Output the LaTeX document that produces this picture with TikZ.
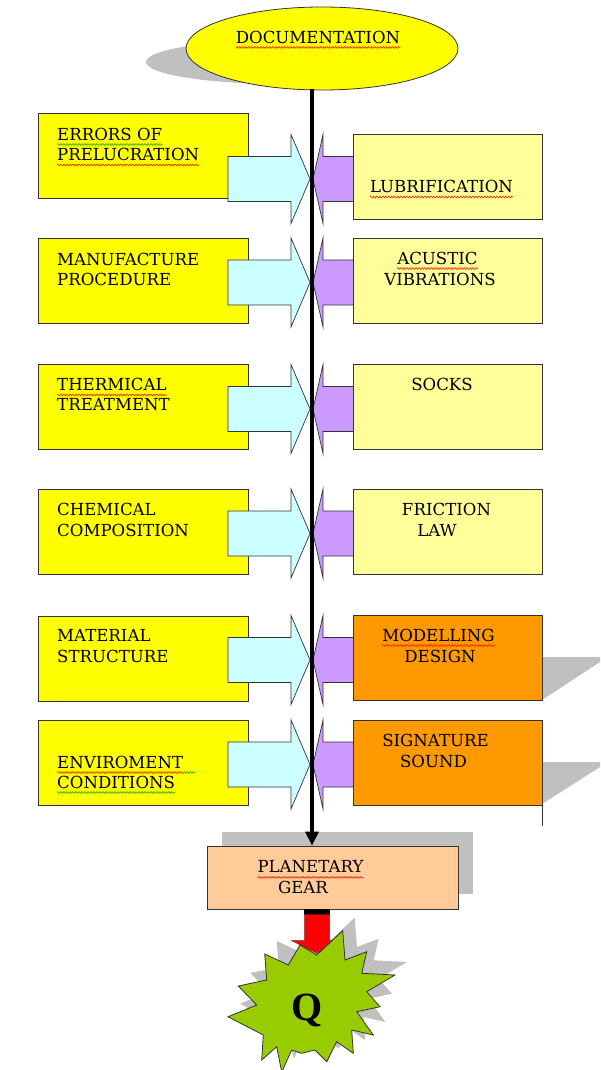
\documentclass[tikz,border=0pt]{standalone}
\usepackage{fontspec}
\setmainfont{DejaVu Serif}
\newfontfamily\qfont{Liberation Serif}
\usetikzlibrary{shapes.geometric,arrows.meta,decorations.pathmorphing}

\definecolor{ylw}{HTML}{FFFF00}
\definecolor{lylw}{HTML}{FFFF99}
\definecolor{cyn}{HTML}{CCFFFF}
\definecolor{prp}{HTML}{CC99FF}
\definecolor{org}{HTML}{FF9900}
\definecolor{pch}{HTML}{FFCC99}
\definecolor{grn}{HTML}{99CC00}
\definecolor{shd}{HTML}{C0C0C0}
\definecolor{edgec}{HTML}{333333}
\definecolor{spellred}{HTML}{FF2000}
\definecolor{spellgreen}{HTML}{22AA22}

\newcommand\rowarrows[1]{%
  \filldraw[fill=cyn, draw=edgec, line width=0.7pt]
    (228,#1-22.5) -- (291,#1-22.5) -- (291,#1-44.5) -- (310,#1) --
    (291,#1+44.5) -- (291,#1+22.5) -- (228,#1+22.5) -- cycle;
  \filldraw[fill=prp, draw=edgec, line width=0.7pt]
    (360,#1-22.5) -- (323,#1-22.5) -- (323,#1-44.5) -- (313,#1) --
    (323,#1+44.5) -- (323,#1+22.5) -- (360,#1+22.5) -- cycle;}

\newcommand\burst[1]{%
  \filldraw[#1] (300,945) -- (316.7,955) -- (342.7,930.7) -- (345,960) --
    (366.7,951.7) -- (361.7,973.3) -- (395,975) -- (366.7,991.7) --
    (380,1006.7) -- (356.7,1011.7) -- (373.3,1035) -- (351.7,1030) --
    (353.3,1053.3) -- (336.7,1041.7) -- (326.7,1061.7) -- (315,1050) --
    (301.7,1053.3) -- (291.7,1050) -- (281.7,1072) -- (276.7,1046.7) --
    (261.7,1060) -- (263.3,1035) -- (228,1016.7) -- (256.7,1005) --
    (238.3,986) -- (266.7,980) -- (264.7,954) -- (288.3,965) -- cycle;}

\newcommand\squig[2]{%
  \draw[decorate, decoration={snake, amplitude=0.9pt, segment length=3pt},
        draw=#2, line width=0.6pt]
    ([yshift=-4pt]#1.south west) -- ([yshift=-4pt]#1.south east);}

\begin{document}
\begin{tikzpicture}[x=1pt,y=-1pt,
  lbox/.style={draw=edgec, fill=ylw, line width=0.8pt, minimum width=210pt,
               minimum height=85pt, inner sep=0pt},
  rbox/.style={draw=edgec, fill=lylw, line width=0.8pt, minimum width=189pt,
               minimum height=85pt, inner sep=0pt},
  obox/.style={rbox, fill=org},
  txt/.style={font=\fontsize{16.6}{20}\selectfont, inner sep=0pt, text=black},
  ltxt/.style={txt, anchor=west}]

\useasboundingbox (0,0) rectangle (600,1070);
\fill[white] (0,0) rectangle (600,1070);

% shadows
\fill[shd] (282,62) ellipse [x radius=136, y radius=22];
\fill[shd] (542,657) -- (600,657) -- (600,662) -- (542,700) -- cycle;
\fill[shd] (542,762) -- (600,762) -- (600,767) -- (542,804) -- cycle;
\fill[shd] (222,832) rectangle (473,894);
\burst{fill=shd, draw=none, shift={(12,-13)}}

% documentation ellipse
\node[ellipse, draw=edgec, fill=ylw, line width=0.8pt, minimum width=272pt,
      minimum height=83pt, inner sep=0pt] (doc) at (322,48.5) {};
\node[txt] (tdoc) at (318,37) {DOCUMENTATION};

% left boxes
\node[lbox] (L1) at (143,155.5) {};
\node[lbox] (L2) at (143,280.5) {};
\node[lbox] (L3) at (143,406.5) {};
\node[lbox] (L4) at (143,532) {};
\node[lbox] (L5) at (143,658.5) {};
\node[lbox] (L6) at (143,762.5) {};

% arrows
\rowarrows{179}
\rowarrows{282.5}
\rowarrows{409}
\rowarrows{533.5}
\rowarrows{660}
\rowarrows{764.5}

% right boxes
\node[rbox] (R1) at (447.5,176.5) {};
\node[rbox] (R2) at (447.5,280.5) {};
\node[rbox] (R3) at (447.5,406.5) {};
\node[rbox] (R4) at (447.5,532) {};
\node[obox] (R5) at (447.5,658) {};
\node[obox] (R6) at (447.5,762.5) {};
\draw[edgec, line width=0.8pt] (R6.south east) -- ++(0,21);

% left texts
\node[ltxt] (t1a) at (57,134) {ERRORS OF};
\node[ltxt] (t1b) at (57,154.5) {PRELUCRATION};
\node[ltxt] (t2a) at (57,259) {MANUFACTURE};
\node[ltxt] (t2b) at (57,279) {PROCEDURE};
\node[ltxt] (t3a) at (57,384.5) {THERMICAL};
\node[ltxt] (t3b) at (57,405) {TREATMENT};
\node[ltxt] (t4a) at (57,509) {CHEMICAL};
\node[ltxt] (t4b) at (57,530) {COMPOSITION};
\node[ltxt] (t5a) at (57,635) {MATERIAL};
\node[ltxt] (t5b) at (57,656) {STRUCTURE};
\node[ltxt] (t6a) at (57,762) {ENVIROMENT};
\node[ltxt] (t6b) at (57,782) {CONDITIONS};

% right texts
\node[txt] (s1a) at (441.5,186.5) {LUBRIFICATION};
\node[txt] (s2a) at (437.5,258) {ACUSTIC};
\node[txt] (s2b) at (440,279) {VIBRATIONS};
\node[txt] (s3a) at (442,384) {SOCKS};
\node[txt] (s4a) at (446.5,509) {FRICTION};
\node[txt] (s4b) at (437,530) {LAW};
\node[txt] (s5a) at (438.5,635) {MODELLING};
\node[txt] (s5b) at (440,656) {DESIGN};
\node[txt] (s6a) at (435.5,740) {SIGNATURE};
\node[txt] (s6b) at (433.5,761) {SOUND};

% planetary gear
\node[draw=edgec, fill=pch, line width=0.8pt, minimum width=251pt,
      minimum height=63pt, inner sep=0pt] (pg) at (332.5,877.5) {};
\node[txt] (pga) at (310.5,867) {PLANETARY};
\node[txt] (pgb) at (303,887) {GEAR};

% main line
\coordinate (top) at (312,89);
\draw[line width=4.5pt, black, -{Triangle[width=13pt,length=14pt]}]
  (top) -- (top |- pg.north);

% spelling underlines
\squig{tdoc}{spellred}
\squig{t1a}{spellgreen}
\squig{t1b}{spellred}
\squig{s1a}{spellred}
\squig{s2a}{spellred}
\squig{t3a}{spellred}
\squig{s5a}{spellred}
\squig{t6a}{spellred}
\draw[decorate, decoration={snake, amplitude=0.9pt, segment length=3pt},
      draw=spellgreen, line width=0.6pt]
  ([yshift=-4pt]t6a.south east) -- ++(12,0);
\squig{t6b}{spellgreen}
\squig{pga}{spellred}

% red arrow
\fill[black] (304,909) rectangle (330,914.5);
\filldraw[fill=red, draw=edgec!60!red, line width=0.5pt]
  (304.5,914.5) -- (329.5,914.5) -- (329.5,940.7) -- (340.7,940.7) --
  (316.7,953) -- (291.7,940.7) -- (304.5,940.7) -- cycle;

% burst
\burst{fill=grn, draw=edgec, line width=0.8pt}
\node[font=\qfont\bfseries\fontsize{40}{40}\selectfont, inner sep=0pt,
      anchor=base] (q) at (307.5,1020.5) {Q};

\end{tikzpicture}
\end{document}
